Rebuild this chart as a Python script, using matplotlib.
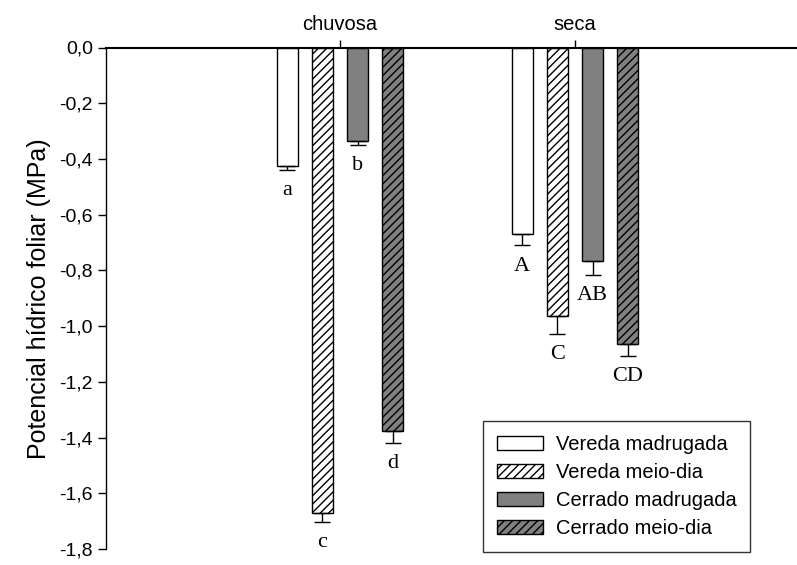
import numpy as np
import matplotlib.pyplot as plt
from matplotlib.ticker import FuncFormatter

# Dados (potencial hídrico foliar, MPa)
estacoes = ['chuvosa', 'seca']
series = ['Vereda madrugada', 'Vereda meio-dia', 'Cerrado madrugada', 'Cerrado meio-dia']
vereda_madrugada = [-0.424, -0.670]
vereda_meiodia = [-1.671, -0.964]
cerrado_madrugada = [-0.334, -0.765]
cerrado_meiodia = [-1.378, -1.065]
erro_vereda_madrugada = [0.016, 0.040]
erro_vereda_meiodia = [0.031, 0.064]
erro_cerrado_madrugada = [0.016, 0.052]
erro_cerrado_meiodia = [0.042, 0.041]
letras_vereda_madrugada = ['a', 'A']
letras_vereda_meiodia = ['c', 'C']
letras_cerrado_madrugada = ['b', 'AB']
letras_cerrado_meiodia = ['d', 'CD']

valores = [vereda_madrugada, vereda_meiodia, cerrado_madrugada, cerrado_meiodia]
erros = [erro_vereda_madrugada, erro_vereda_meiodia, erro_cerrado_madrugada, erro_cerrado_meiodia]
letras = [letras_vereda_madrugada, letras_vereda_meiodia, letras_cerrado_madrugada, letras_cerrado_meiodia]
cores = ['white', 'white', '#808080', '#808080']
hachuras = [None, '////', None, '////']

plt.rcParams['font.family'] = ['Liberation Sans', 'DejaVu Sans']
plt.rcParams['hatch.linewidth'] = 1.0

fig = plt.figure(figsize=(7.97, 5.65), dpi=100)
ax = fig.add_axes([106 / 797, 1 - 549 / 565, 1 - 106 / 797, (549 - 47.5) / 565])

centros = np.array([0, 6.68])
deslocamentos = [-1.5, -0.5, 0.5, 1.5]
largura = 0.6

for i in range(4):
    x = centros + deslocamentos[i]
    ax.bar(x, valores[i], width=largura, color=cores[i], edgecolor='black',
           linewidth=1, hatch=hachuras[i], label=series[i], zorder=2)
    ax.errorbar(x, valores[i], yerr=[erros[i], np.zeros(2)], fmt='none',
                ecolor='black', elinewidth=1, capsize=5.5, capthick=1, zorder=3)
    for j in range(2):
        ax.annotate(letras[i][j], (x[j], valores[i][j] - erros[i][j]),
                    xytext=(0, -15), textcoords='offset points',
                    ha='center', va='center', fontsize=16, family='Liberation Serif')

ax.set_xlim(-6.65, 12.99)
ax.set_ylim(-1.8, 0)
ax.set_yticks(np.linspace(-1.8, 0, 10))
ax.yaxis.set_major_formatter(FuncFormatter(lambda v, p: f"{v + 0.0:.1f}".replace('.', ',')))

ax.xaxis.tick_top()
ax.set_xticks(centros)
ax.set_xticklabels(estacoes)
ax.tick_params(axis='x', direction='out', length=6, width=1, labelsize=14.5, pad=4)
ax.tick_params(axis='y', direction='out', length=6, width=1, labelsize=14)

ax.spines['bottom'].set_visible(False)
ax.spines['right'].set_visible(False)
ax.spines['top'].set_linewidth(1.5)
ax.spines['left'].set_linewidth(1)

ax.set_ylabel('Potencial hídrico foliar (MPa)', fontsize=18, labelpad=6)

leg = ax.legend(loc='upper left', bbox_to_anchor=(483 / 797, 1 - 421 / 565),
                bbox_transform=fig.transFigure, borderaxespad=0, fontsize=14.5,
                frameon=True, fancybox=False, edgecolor='black',
                handlelength=2.3, handleheight=0.7, handletextpad=0.6,
                labelspacing=0.45, borderpad=0.7)
leg.get_frame().set_linewidth(1)

fig.savefig('out.png', dpi=100)
